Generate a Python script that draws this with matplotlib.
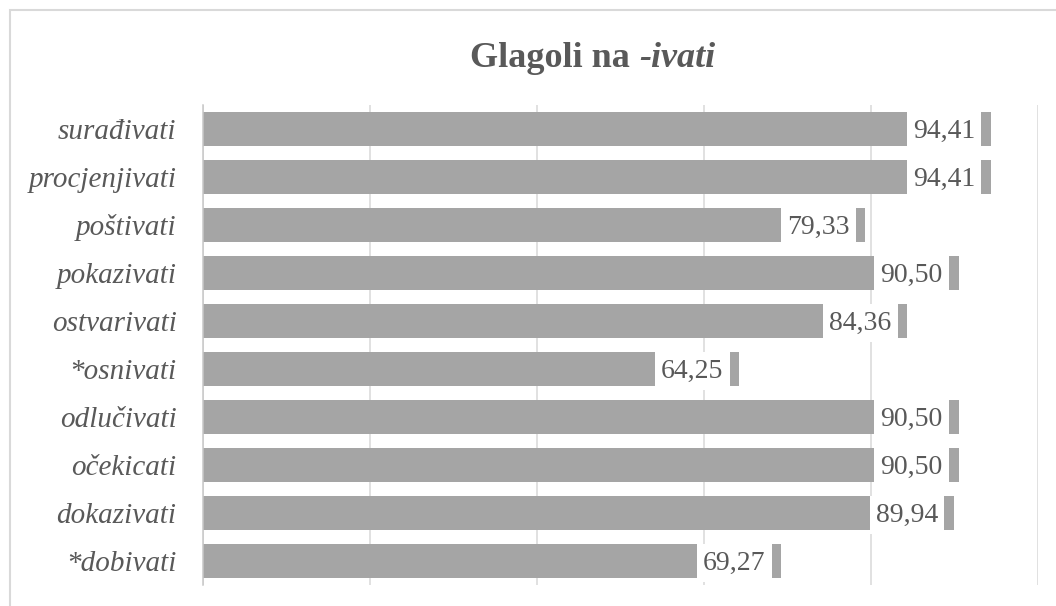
import matplotlib.pyplot as plt
from matplotlib.patches import Rectangle

# Data (top to bottom as in the chart)
verbs = ['surađivati', 'procjenjivati', 'poštivati', 'pokazivati', 'ostvarivati',
         '*osnivati', 'odlučivati', 'očekicati', 'dokazivati', '*dobivati']
scores = [94.41, 94.41, 79.33, 90.50, 84.36, 64.25, 90.50, 90.50, 89.94, 69.27]

bar_color = '#A5A5A5'
text_color = '#595959'
grid_color = '#D9D9D9'

plt.rcParams['font.family'] = 'Liberation Serif'

fig = plt.figure(figsize=(10.56, 6.06), dpi=100)
ax = fig.add_axes([203 / 1056, 21 / 606, 835 / 1056, 480 / 606])

ypos = list(range(len(verbs)))[::-1]
ax.barh(ypos, scores, height=0.69, color=bar_color, zorder=2)

# value labels with white box, sitting over the bar end
for y, v in zip(ypos, scores):
    ax.annotate(f'{v:.2f}'.replace('.', ','), xy=(v, y), xytext=(-16, -2),
                textcoords='offset pixels', ha='right', va='center',
                fontsize=20, color=text_color, zorder=4,
                bbox=dict(boxstyle='square,pad=0.22', fc='white', ec='none'))

ax.set_xlim(0, 100)
ax.set_ylim(-0.5, len(verbs) - 0.5)
ax.set_xticks([0, 20, 40, 60, 80, 100])
ax.xaxis.grid(True, color=grid_color, linewidth=1.1, zorder=0)
ax.set_axisbelow(True)
ax.tick_params(axis='x', length=0, labelbottom=False)
ax.tick_params(axis='y', length=0, pad=19)
ax.set_yticks(ypos)
ax.set_yticklabels(verbs, fontsize=21, style='italic', color=text_color)

for s in ['top', 'right', 'bottom']:
    ax.spines[s].set_visible(False)
ax.spines['left'].set_color('#C8C8C8')
ax.spines['left'].set_linewidth(1.1)

# title: bold part + bold italic part
t1 = fig.text(470 / 1056, (606 - 67) / 606, 'Glagoli na ', fontsize=26,
              fontweight='bold', color=text_color, ha='left', va='baseline')
ax.annotate('-ivati', xy=(1, 0), xycoords=t1, xytext=(0, 0),
            textcoords='offset points', fontsize=26, fontweight='bold',
            style='italic', color=text_color, ha='left', va='bottom',
            annotation_clip=False)

# chart frame
fig.patches.append(Rectangle((10 / 1056, -0.1), 1.2, (606 - 10) / 606 + 0.1,
                             transform=fig.transFigure, fill=False,
                             ec=grid_color, lw=1.5))

fig.savefig('out.png', dpi=100)
